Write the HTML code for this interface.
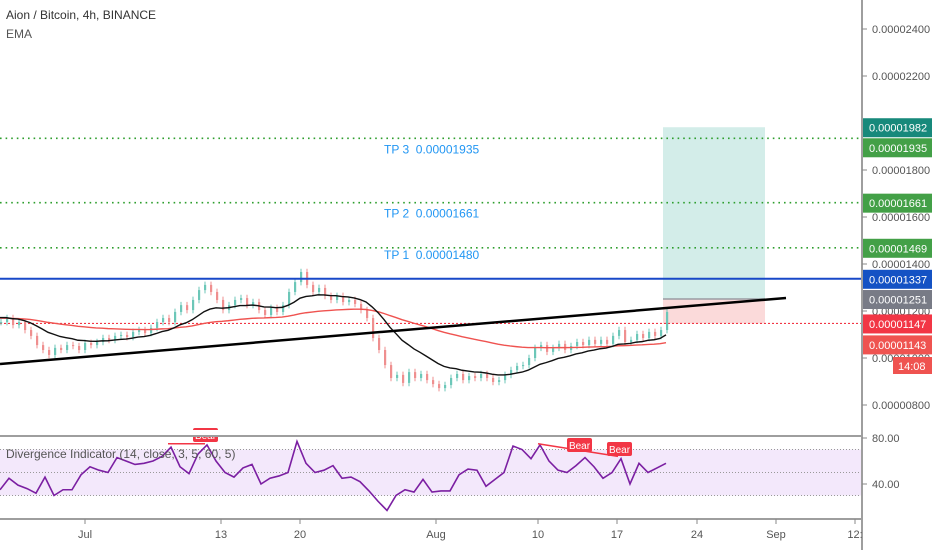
<!DOCTYPE html>
<html><head><meta charset="utf-8"><style>
html,body{margin:0;padding:0;background:#fff;width:932px;height:550px;overflow:hidden}
svg text{font-family:"Liberation Sans",sans-serif}
</style></head><body>
<svg id="chart" width="932" height="550" xmlns="http://www.w3.org/2000/svg">
<rect width="932" height="550" fill="#fff"/>
<g id="bg"></g>
<g id="candles"></g>
<g id="overlays"></g>
<g id="rsi"></g>
<g id="axes"></g>
</svg>
<script>
// ---- data ----
const closes=[1153,1170,1140,1153,1119,1094,1055,1034,1013,1043,1034,1055,1051,1034,1064,1055,1068,1085,1077,1094,1098,1089,1111,1119,1106,1128,1153,1170,1153,1196,1225,1204,1247,1289,1311,1281,1247,1204,1225,1247,1255,1225,1238,1204,1183,1213,1196,1225,1281,1323,1366,1311,1281,1298,1264,1247,1264,1238,1247,1230,1204,1170,1085,1034,970,915,928,894,940,915,932,906,889,872,885,915,932,906,923,915,932,915,898,906,928,949,966,970,1000,1043,1055,1026,1043,1060,1034,1051,1068,1055,1077,1060,1077,1060,1094,1119,1068,1077,1102,1085,1111,1094,1119,1196];
const rsiValues=[35,45,39,36,32,46,30,35,35,48,55,52,50,63,60,57,58,60,64,72,55,49,66,74,60,50,46,54,57,40,45,47,50,77,58,50,52,56,45,46,42,34,25,17,30,35,33,44,33,34,34,48,53,52,38,44,50,73,70,62,74,60,52,50,56,63,55,45,50,62,40,58,50,54,58];
const priceTicks=[2400,2200,1800,1600,1400,1200,1000,800];
const rsiTicks=[80,40];
const dateLabels=["Jul","13","20","Aug","10","17","24","Sep","12:"];
const dateX=[85,221,300,436,538,617,697,776,855];
const levelPrices=[1935,1661,1469];
const tpNames=["TP 3","TP 2","TP 1"];
const tpPrices=["0.00001935","0.00001661","0.00001480"];
const tagPrices=[1982,1935,1661,1469,1337,1251,1147,1143];
const tagShift=[0,9,0,0,0,0,0,20];
const tagColors=["#17897b","#43a047","#43a047","#43a047","#1452c4","#787b86","#f23645","#ef5350"];
const resistance=1337, entry=1251, stopLine=1147, target=1982;

// ---- scales ----
const NS="http://www.w3.org/2000/svg";
const y=p=>405-(p-800)*0.235;
const ry=v=>484-(v-40)*1.15;
const cx=i=>i*6;
const rx=i=>i*9;
function el(parent,tag,attrs){const e=document.createElementNS(NS,tag);for(const k in attrs)e.setAttribute(k,attrs[k]);document.getElementById(parent).appendChild(e);return e;}
function fmt(p){return "0.0000"+String(Math.round(p)).padStart(4,"0");}

let e=el('bg','rect',{x:0,y:ry(70),width:862,height:ry(30)-ry(70),fill:"#f3e8fb"});


e=el('bg','rect',{x:663,y:y(target),width:102,height:y(entry)-y(target),fill:"#d3ede9"});


e=el('bg','rect',{x:663,y:y(entry),width:102,height:y(stopLine)-y(entry),fill:"#fbdada"});


e=el('bg','line',{x1:663,x2:765,y1:y(entry),y2:y(entry),stroke:"#9a9ca3","stroke-width":1.5});



levelPrices.forEach((p,i)=>{
  const l=el('bg','line',{x1:0,x2:862,y1:y(p),y2:y(p),stroke:"#2e9e2e","stroke-width":1.6,"stroke-dasharray":"1.6 4"});
  
  
  const t=el('overlays','text',{x:384,y:y(p)+(i==2?11:15),fill:"#2196f3","font-size":12});
  t.textContent=tpNames[i]+"\u00a0\u00a0"+tpPrices[i];
  
  
});
e=el('bg','line',{x1:0,x2:862,y1:y(stopLine),y2:y(stopLine),stroke:"#f23645","stroke-width":1.2,"stroke-dasharray":"2 2"});



closes.forEach((c,i)=>{
  const o=i?closes[i-1]:c;
  const hi=Math.max(o,c)+14, lo=Math.min(o,c)-14;
  const col=c>=o?"#6cc7b8":"#ef8f8f";
  const w=el('candles','line',{x1:cx(i)+1,x2:cx(i)+1,y1:y(hi),y2:y(lo),stroke:col,"stroke-width":1});
  
  
  const b=el('candles','rect',{x:cx(i),y:y(Math.max(o,c)),width:2.2,height:Math.max(1,y(Math.min(o,c))-y(Math.max(o,c))),fill:col});
  
  
});

function ema(arr,n,seed){const a=2/(n+1);let v=seed;return arr.map(c=>(v=v+a*(c-v)));}
const emaFast=ema(closes,14,1175), emaSlow=ema(closes,60,1170);
[[emaSlow,"#ef5350","ema-slow"],[emaFast,"#111","ema-fast"]].forEach(([arr,col,nm])=>{
  const p=el('overlays','polyline',{points:arr.map((v,i)=>cx(i)+","+y(v)).join(" "),fill:"none",stroke:col,"stroke-width":1.4});
  
  
});

e=el('overlays','line',{x1:0,x2:862,y1:y(resistance),y2:y(resistance),stroke:"#1848c8","stroke-width":2});


e=el('overlays','line',{x1:0,y1:364,x2:786,y2:298,stroke:"#000","stroke-width":2.5});



[70,50,30].forEach(v=>{
  const l=el('rsi','line',{x1:0,x2:862,y1:ry(v),y2:ry(v),stroke:"#999","stroke-width":1,"stroke-dasharray":"1 2"});
  
  
});
e=el('rsi','polyline',{points:rsiValues.map((v,i)=>rx(i)+","+ry(v)).join(" "),fill:"none",stroke:"#7b1fa2","stroke-width":1.6});


e=el('rsi','line',{x1:168,y1:ry(75),x2:205,y2:ry(75),stroke:"#f23645","stroke-width":1.5});


e=el('rsi','polyline',{points:"538,"+ry(75)+" 618,"+ry(64),fill:"none",stroke:"#f23645","stroke-width":1.5});


[[193,428],[567,438],[607,442]].forEach(([bx,by])=>{
  const r=el('rsi','rect',{x:bx,y:by,width:25,height:14,rx:2,fill:"#f23645"});
  
  
  const t=el('rsi','text',{x:bx+12.5,y:by+11,fill:"#fff","font-size":10,"text-anchor":"middle"});
  t.textContent="Bear";
});
e=el('rsi','text',{x:6,y:458,fill:"#555","font-size":12});
e.textContent="Divergence Indicator (14, close, 3, 5, 60, 5)";



el('axes','rect',{x:0,y:430,width:932,height:6,fill:"#fff"});
e=el('axes','line',{x1:0,x2:932,y1:436,y2:436,stroke:"#9e9e9e","stroke-width":2});


e=el('axes','line',{x1:0,x2:932,y1:519,y2:519,stroke:"#9e9e9e","stroke-width":2});


e=el('axes','rect',{x:863,y:0,width:69,height:550,fill:"#fff"});
e=el('axes','line',{x1:862,x2:862,y1:0,y2:550,stroke:"#9e9e9e","stroke-width":2});


priceTicks.forEach(p=>{
  el('axes','line',{x1:862,x2:867,y1:y(p),y2:y(p),stroke:"#888"});
  const t=el('axes','text',{x:872,y:y(p)+4,fill:"#555","font-size":11});
  t.textContent=fmt(p);
  
  
});
rsiTicks.forEach(v=>{
  el('axes','line',{x1:862,x2:867,y1:ry(v),y2:ry(v),stroke:"#888"});
  const t=el('axes','text',{x:872,y:ry(v)+4,fill:"#555","font-size":11});
  t.textContent=v.toFixed(2);
  
  
});
tagPrices.forEach((p,i)=>{
  const cy=y(p)+tagShift[i];
  const r=el('axes','rect',{x:863,y:cy-9,width:69,height:19,fill:tagColors[i]});
  
  
  const t=el('axes','text',{x:869,y:cy+4.5,fill:"#fff","font-size":11});
  t.textContent=fmt(p);
});
e=el('axes','rect',{x:893,y:357,width:39,height:17,fill:"#ef5350"});


e=el('axes','text',{x:898,y:370,fill:"#fff","font-size":11});
e.textContent="14:08";
dateLabels.forEach((d,i)=>{
  el('axes','line',{x1:dateX[i],x2:dateX[i],y1:519,y2:524,stroke:"#888"});
  const t=el('axes','text',{x:dateX[i],y:538,fill:"#555","font-size":11,"text-anchor":"middle"});
  t.textContent=d;
  
  
});
e=el('axes','text',{x:6,y:19,fill:"#333","font-size":12});
e.textContent="Aion / Bitcoin, 4h, BINANCE";


e=el('axes','text',{x:6,y:38,fill:"#555","font-size":12});
e.textContent="EMA";


</script>
</body></html>
